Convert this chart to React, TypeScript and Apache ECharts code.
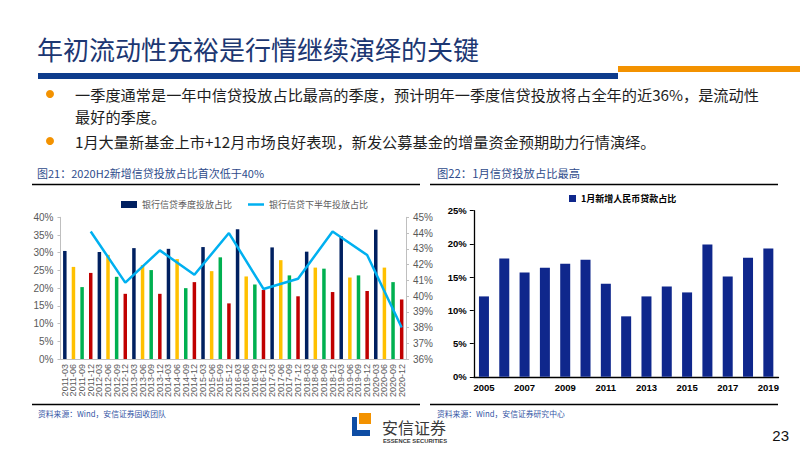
import React, { useEffect, useRef } from 'react';
import * as echarts from 'echarts';

const quarterLabels = [
  '2011-03', '2011-06', '2011-09', '2011-12',
  '2012-03', '2012-06', '2012-09', '2012-12',
  '2013-03', '2013-06', '2013-09', '2013-12',
  '2014-03', '2014-06', '2014-09', '2014-12',
  '2015-03', '2015-06', '2015-09', '2015-12',
  '2016-03', '2016-06', '2016-09', '2016-12',
  '2017-03', '2017-06', '2017-09', '2017-12',
  '2018-03', '2018-06', '2018-09', '2018-12',
  '2019-03', '2019-06', '2019-09', '2019-12',
  '2020-03', '2020-06', '2020-09', '2020-12',
];

const quarterShare = [
  30.5, 26.0, 20.3, 24.3,
  30.2, 29.4, 23.2, 18.4,
  31.3, 26.5, 25.1, 18.4,
  31.1, 28.2, 20.0, 21.7,
  31.6, 24.8, 28.7, 15.7,
  36.6, 23.3, 21.0, 19.5,
  31.5, 27.9, 23.6, 17.7,
  30.3, 25.8, 25.5, 18.9,
  34.6, 23.0, 23.6, 19.2,
  36.5, 25.8, 21.7, 16.8,
];

// second-half share, plotted at each December quarter
const halfYearShare = [44.1, 40.85, 42.9, 41.35, 44.0, 40.45, 41.1, 44.1, 42.6, 38.0];

const years = ['2005', '2006', '2007', '2008', '2009', '2010', '2011', '2012', '2013', '2014', '2015', '2016', '2017', '2018', '2019'];
const januaryShare = [12.1, 17.8, 15.7, 16.4, 17.0, 17.6, 14.0, 9.1, 12.1, 13.6, 12.7, 19.9, 15.1, 17.9, 19.3];

const quarterColors = ['#002060', '#FFC000', '#00B050', '#C00000'];

const CJK = "'Noto Sans CJK SC', 'Liberation Sans', sans-serif";
const LAT = "'Liberation Sans', 'Noto Sans CJK SC', sans-serif";

export default function App() {
  const ref = useRef<HTMLDivElement>(null);
  useEffect(() => {
    document.body.style.margin = '0';
    const chart = echarts.init(ref.current!, null, { renderer: 'svg' });
    const barData = quarterShare.map((v, i) => ({ value: v, itemStyle: { color: quarterColors[i % 4] } }));
    const lineData = quarterLabels.map((_, i) => (i % 4 === 3 ? halfYearShare[(i - 3) / 4] : null));

    const txt = (text: string, x: number, y: number, fontSize: number, fill: string, extra: any = {}) => ({
      type: 'text',
      x,
      y,
      silent: true,
      style: { text, fontSize, fill, fontFamily: CJK, verticalAlign: 'middle', align: 'left', ...extra },
    });
    const hline = (x1: number, x2: number, y: number) => ({
      type: 'line',
      silent: true,
      shape: { x1, y1: y, x2, y2: y },
      style: { stroke: '#000', lineWidth: 1.3 },
    });

    chart.setOption({
      animation: false,
      backgroundColor: '#fff',
      textStyle: { fontFamily: LAT },
      graphic: [
        txt('年初流动性充裕是行情继续演绎的关键', 37, 48, 26, '#1C3772'),
        { type: 'rect', silent: true, shape: { x: 38, y: 73, width: 580, height: 6 }, style: { fill: '#0E3C8C' } },
        { type: 'rect', silent: true, shape: { x: 618, y: 66, width: 182, height: 6 }, style: { fill: '#F39200' } },
        { type: 'circle', silent: true, shape: { cx: 50, cy: 94, r: 4 }, style: { fill: '#F39200' } },
        { type: 'circle', silent: true, shape: { cx: 50, cy: 141, r: 4 }, style: { fill: '#F39200' } },
        txt('一季度通常是一年中信贷投放占比最高的季度，预计明年一季度信贷投放将占全年的近36%，是流动性', 75, 94, 15.2, '#1E1E1E'),
        txt('最好的季度。', 75, 116, 15.2, '#1E1E1E'),
        txt('1月大量新基金上市+12月市场良好表现，新发公募基金的增量资金预期助力行情演绎。', 75, 141, 15.2, '#1E1E1E'),
        txt('图21：2020H2新增信贷投放占比首次低于40%', 37, 173, 11, '#2E4B8B'),
        txt('图22：1月信贷投放占比最高', 437, 173, 11.3, '#2E4B8B'),
        hline(32, 420, 184.5),
        hline(430, 778, 184.5),
        hline(32, 420, 404.5),
        hline(430, 778, 404.5),
        txt('资料来源：Wind，安信证券固收团队', 38, 413, 7.8, '#3355A5'),
        txt('资料来源：Wind，安信证券研究中心', 437, 413, 7.8, '#3355A5'),
        { type: 'rect', silent: true, shape: { x: 359, y: 413, width: 12, height: 11 }, style: { fill: '#F39200' } },
        {
          type: 'polygon',
          silent: true,
          shape: { points: [[352, 417], [357, 417], [357, 430], [370, 430], [370, 436], [352, 436]] },
          style: { fill: '#0E4DA4' },
        },
        txt('安信证券', 382, 427, 16, '#3A3A3A'),
        txt('ESSENCE SECURITIES', 383, 441, 5.8, '#3A3A3A', { fontFamily: LAT, fontWeight: 'bold' }),
        txt('23', 789, 435, 15, '#111', { align: 'right', fontFamily: LAT }),
      ],
      legend: [
        {
          left: 116,
          top: 195,
          itemWidth: 16,
          itemHeight: 7,
          itemGap: 16,
          textStyle: { fontSize: 9, color: '#595959', fontFamily: CJK },
          data: [
            { name: '银行信贷季度投放占比', icon: 'rect' },
            { name: '银行信贷下半年投放占比', icon: 'path://M0,0h32v5h-32z' },
          ],
        },
        {
          left: 564,
          top: 189,
          itemWidth: 7,
          itemHeight: 7,
          itemGap: 4,
          textStyle: { fontSize: 9, color: '#000', fontWeight: 'bold', fontFamily: CJK },
          data: [{ name: '1月新增人民币贷款占比', icon: 'rect' }],
        },
      ],
      grid: [
        { left: 60.5, right: 394, top: 217.3, bottom: 91 },
        { left: 473.8, right: 21.5, top: 210.7, bottom: 73.2 },
      ],
      xAxis: [
        {
          type: 'category',
          gridIndex: 0,
          data: quarterLabels,
          axisLine: { lineStyle: { color: '#BFBFBF' } },
          axisTick: { alignWithLabel: true, length: 4, lineStyle: { color: '#BFBFBF' } },
          axisLabel: { rotate: 90, interval: 0, fontSize: 9, color: '#595959', margin: 5 },
        },
        {
          type: 'category',
          gridIndex: 1,
          data: years,
          axisLine: { lineStyle: { color: '#000', width: 1.3 } },
          axisTick: { show: false },
          axisLabel: { interval: 1, fontSize: 9.5, fontWeight: 'bold', color: '#000', margin: 6 },
        },
      ],
      yAxis: [
        {
          type: 'value',
          gridIndex: 0,
          min: 0,
          max: 40,
          interval: 5,
          axisLine: { show: true, lineStyle: { color: '#BFBFBF' } },
          axisTick: { show: true, length: 3, lineStyle: { color: '#BFBFBF' } },
          splitLine: { show: false },
          axisLabel: { formatter: '{value}%', fontSize: 10, color: '#595959', margin: 7 },
        },
        {
          type: 'value',
          gridIndex: 0,
          position: 'right',
          min: 36,
          max: 45,
          interval: 1,
          axisLine: { show: true, lineStyle: { color: '#BFBFBF' } },
          axisTick: { show: true, length: 3, lineStyle: { color: '#BFBFBF' } },
          splitLine: { show: false },
          axisLabel: { formatter: '{value}%', fontSize: 10, color: '#595959', margin: 7 },
        },
        {
          type: 'value',
          gridIndex: 1,
          min: 0,
          max: 25,
          interval: 5,
          axisLine: { show: true, lineStyle: { color: '#000', width: 1.3 } },
          axisTick: { show: true, length: 4, lineStyle: { color: '#000' } },
          splitLine: { show: false },
          axisLabel: { formatter: '{value}%', fontSize: 9.5, fontWeight: 'bold', color: '#000', margin: 7 },
        },
      ],
      series: [
        {
          name: '银行信贷季度投放占比',
          type: 'bar',
          xAxisIndex: 0,
          yAxisIndex: 0,
          barWidth: 3.5,
          itemStyle: { color: '#002060' },
          data: barData,
        },
        {
          name: '银行信贷下半年投放占比',
          type: 'line',
          xAxisIndex: 0,
          yAxisIndex: 1,
          symbol: 'none',
          connectNulls: true,
          lineStyle: { color: '#00B0F0', width: 2.5 },
          itemStyle: { color: '#00B0F0' },
          data: lineData,
        },
        {
          name: '1月新增人民币贷款占比',
          type: 'bar',
          xAxisIndex: 1,
          yAxisIndex: 2,
          barWidth: 10,
          itemStyle: { color: '#0F278C' },
          data: januaryShare,
        },
      ],
    });
    return () => chart.dispose();
  }, []);
  return <div ref={ref} style={{ width: 800, height: 450 }} />;
}
